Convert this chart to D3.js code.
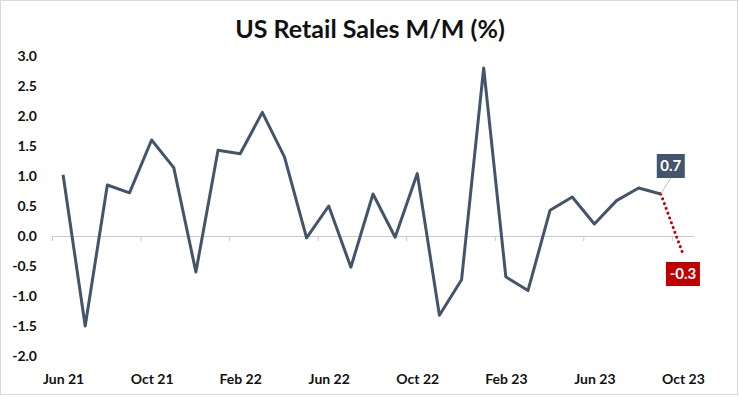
<!DOCTYPE html>
<html>
<head>
<meta charset="utf-8">
<script src="https://cdn.jsdelivr.net/npm/d3@7"></script>
<style>
  body { margin: 0; background: #fff; }
  svg { font-family: Lato, "Open Sans", sans-serif; }
</style>
</head>
<body>
<svg id="container" width="740" height="398"></svg>
<script>
let width = 740,
    height = 398;

// monthly M/M change, Jun 21 .. Sep 23 (actuals)
let months = ["Jun 21", "Jul 21", "Aug 21", "Sep 21", "Oct 21", "Nov 21", "Dec 21",
    "Jan 22", "Feb 22", "Mar 22", "Apr 22", "May 22", "Jun 22", "Jul 22", "Aug 22",
    "Sep 22", "Oct 22", "Nov 22", "Dec 22", "Jan 23", "Feb 23", "Mar 23", "Apr 23",
    "May 23", "Jun 23", "Jul 23", "Aug 23", "Sep 23", "Oct 23"]
let actual = [1.02, -1.5, 0.85, 0.72, 1.6, 1.14, -0.6, 1.43, 1.37, 2.06, 1.32, -0.03,
    0.5, -0.52, 0.7, -0.02, 1.04, -1.32, -0.73, 2.8, -0.68, -0.91, 0.43, 0.65,
    0.2, 0.59, 0.8, 0.7]
// forecast for Oct 23
let forecast = [{ m: "Sep 23", v: 0.7 }, { m: "Oct 23", v: -0.3 }]
let xTickLabels = ["Jun 21", "Oct 21", "Feb 22", "Jun 22", "Oct 22", "Feb 23", "Jun 23", "Oct 23"]
let yTicks = [3.0, 2.5, 2.0, 1.5, 1.0, 0.5, 0.0, -0.5, -1.0, -1.5, -2.0]

// plain hyphen for negatives, like the original
let fmt = d3.formatLocale({ decimal: ".", thousands: ",", grouping: [3], currency: ["", ""], minus: "-" }).format(".1f")

let svg = d3.select("#container")

// outer frame
svg.append("rect")
    .attr("x", 0.5)
    .attr("y", 0.5)
    .attr("width", width - 3)
    .attr("height", height - 4)
    .attr("fill", "none")
    .attr("stroke", "#d9d9d9")

svg.append("text")
    .attr("x", 370)
    .attr("y", 38)
    .attr("text-anchor", "middle")
    .text("US Retail Sales M/M (%)")
    .attr("fill", "#111")
    .attr("font-size", "25px")
    .attr("font-weight", 700)

let xScale = d3.scaleLinear()
    .domain([-0.5, months.length - 0.5])
    .range([52, 694])

let yScale = d3.scaleLinear()
    .domain([-2, 3])
    .range([356, 56])

let x = d => xScale(months.indexOf(d))

// y labels
let yAxis = svg.append("g")
    .attr("transform", "translate(39,0)")
    .call(d3.axisLeft(yScale)
        .tickValues(yTicks)
        .tickFormat(fmt)
        .tickSize(0)
        .tickPadding(2))
yAxis.select(".domain").remove()
yAxis.selectAll("text")
    .attr("font-family", "Lato, sans-serif")
    .attr("font-size", "14px")
    .attr("font-weight", 700)
    .attr("fill", "#111")

// zero line with small ticks between categories
let boundaries = d3.range(-0.5, months.length, 4)
let zeroAxis = svg.append("g")
    .attr("transform", "translate(0," + yScale(0) + ")")
    .call(d3.axisBottom(xScale)
        .tickValues(boundaries)
        .tickFormat("")
        .tickSizeInner(5)
        .tickSizeOuter(0))
zeroAxis.selectAll("line, path").attr("stroke", "#c8c8c8")

// month labels
let xAxis = svg.append("g")
    .attr("transform", "translate(0,366)")
    .call(d3.axisBottom(xScale)
        .tickValues(xTickLabels.map(d => months.indexOf(d)))
        .tickFormat(i => months[i])
        .tickSize(0)
        .tickPadding(8))
xAxis.select(".domain").remove()
xAxis.selectAll("text")
    .attr("font-family", "Lato, sans-serif")
    .attr("font-size", "14px")
    .attr("font-weight", 700)
    .attr("fill", "#111")

let line = d3.line()
    .x((d, i) => xScale(i))
    .y(d => yScale(d))

svg.append("path")
    .datum(actual)
    .attr("d", line)
    .attr("fill", "none")
    .attr("stroke", "#44546a")
    .attr("stroke-width", 3)
    .attr("stroke-linejoin", "round")

// forecast dotted segment
svg.append("path")
    .datum(forecast)
    .attr("d", d3.line().x(d => x(d.m)).y(d => yScale(d.v)))
    .attr("fill", "none")
    .attr("stroke", "#c00000")
    .attr("stroke-width", 3)
    .attr("stroke-dasharray", "0.1 5")
    .attr("stroke-linecap", "round")

// data labels
let last = forecast[0], next = forecast[1]

svg.append("line")
    .attr("x1", x(last.m))
    .attr("y1", yScale(last.v))
    .attr("x2", x(last.m) + 10)
    .attr("y2", yScale(last.v) - 16)
    .attr("stroke", "#bfbfbf")
    .attr("stroke-width", 1)

function labelBox(cx, cy, w, txt, fill) {
    let g = svg.append("g")
    g.append("rect")
        .attr("x", cx - w / 2)
        .attr("y", cy - 12)
        .attr("width", w)
        .attr("height", 24)
        .attr("fill", fill)
    g.append("text")
        .attr("x", cx)
        .attr("y", cy + 5)
        .attr("text-anchor", "middle")
        .attr("fill", "#fff")
        .attr("font-size", "15px")
        .attr("font-weight", 700)
        .text(txt)
}

labelBox(x(last.m) + 10, yScale(last.v) - 28, 28, fmt(last.v), "#44546a")
labelBox(x(next.m), yScale(next.v) + 20, 34, fmt(next.v), "#c00000")
</script>
</body>
</html>
